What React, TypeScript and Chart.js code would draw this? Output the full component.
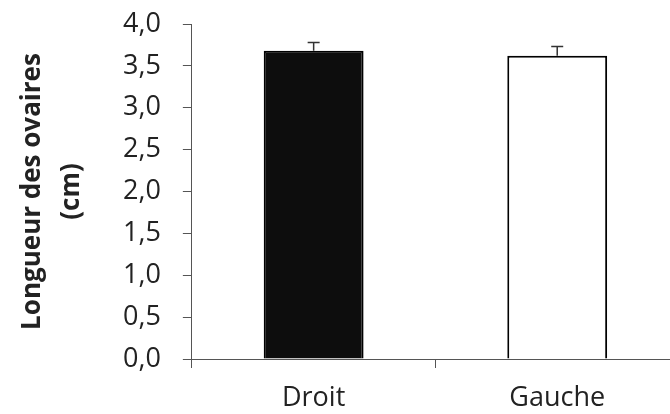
import React, { useEffect, useRef } from "react";
import { Chart, registerables } from "chart.js";

Chart.register(...registerables);

const categories = ["Droit", "Gauche"];
const values = [3.68, 3.62];
const errors = [0.1, 0.11];
const fills = ["#0d0d0d", "#ffffff"];
const yTitle = ["Longueur des ovaires", "(cm)"];

const errorBarPlugin = {
  id: "errorBars",
  afterDatasetsDraw(chart: any) {
    const { ctx, scales } = chart;
    const meta = chart.getDatasetMeta(0);
    ctx.save();
    ctx.strokeStyle = "#333";
    ctx.lineWidth = 1.5;
    meta.data.forEach((bar: any, i: number) => {
      const x = bar.x;
      const yTop = scales.y.getPixelForValue(values[i] + errors[i]);
      const yBase = scales.y.getPixelForValue(values[i]);
      ctx.beginPath();
      ctx.moveTo(x, yBase);
      ctx.lineTo(x, yTop);
      ctx.moveTo(x - 6, yTop);
      ctx.lineTo(x + 6, yTop);
      ctx.stroke();
    });
    ctx.restore();
  },
};

export default function App() {
  const ref = useRef<HTMLCanvasElement>(null);
  useEffect(() => {
    if (!ref.current) return;
    const chart = new Chart(ref.current, {
      type: "bar",
      data: {
        labels: categories,
        datasets: [
          {
            data: values,
            backgroundColor: fills,
            borderColor: "#000",
            borderWidth: 2,
            barPercentage: 0.41,
            categoryPercentage: 1,
          },
        ],
      },
      options: {
        animation: false,
        responsive: true,
        maintainAspectRatio: false,
        layout: { padding: { top: 24, right: 0, left: 13, bottom: 0 } },
        plugins: { legend: { display: false }, tooltip: { enabled: false } },
        scales: {
          x: {
            offset: true,
            grid: {
              offset: true,
              drawOnChartArea: false,
              drawTicks: true,
              tickLength: 9,
              color: "#555",
            },
            border: { display: true, color: "#555", width: 1 },
            ticks: {
              color: "#222",
              padding: 14,
              font: { family: "Open Sans", size: 27 },
            },
            afterFit: (s: any) => {
              s.height = 55;
              s.paddingLeft = 0;
              s.paddingRight = 0;
            },
          },
          y: {
            min: 0,
            max: 4,
            ticks: {
              stepSize: 0.5,
              color: "#222",
              padding: 22,
              font: { family: "Open Sans", size: 27 },
              callback: (v: any) => Number(v).toFixed(1).replace(".", ","),
            },
            grid: {
              drawOnChartArea: false,
              drawTicks: true,
              tickLength: 9,
              color: "#555",
            },
            border: { display: true, color: "#555", width: 1 },
            title: {
              display: true,
              text: yTitle,
              color: "#222",
              font: { family: "Open Sans", size: 26, weight: "bold", lineHeight: 1.5 },
              padding: { top: 0, bottom: 10 },
            },
            afterFit: (s: any) => {
              s.paddingTop = 0;
              s.paddingBottom = 0;
            },
          },
        },
      },
      plugins: [errorBarPlugin],
    });
    return () => chart.destroy();
  }, []);
  return (
    <div style={{ position: "fixed", left: 0, top: 0, width: 670, height: 414, overflow: "hidden" }}>
      <div style={{ position: "absolute", left: 0, top: 0, width: 679, height: 414 }}>
        <canvas ref={ref} />
      </div>
    </div>
  );
}
